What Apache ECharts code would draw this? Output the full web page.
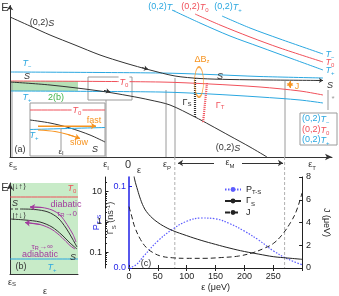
<!DOCTYPE html>
<html><head><meta charset="utf-8">
<script src="https://cdn.jsdelivr.net/npm/echarts@6/dist/echarts.min.js"></script>
<style>html,body{margin:0;padding:0;background:#fff}#c{width:339px;height:296px}</style>
</head><body><div id="c"></div>
<script>
// ---------- Panel (a): schematic energy levels (arbitrary units: eps, E) ----------
const aUpperS = [[0,70],[10,65.5],[20,61],[32.5,56],[45,51],[57.5,47],[70,43.5],[82.5,40.5],[95,39.25],[110,38.75],[130,38.5],[156.5,38.25]];
const aLowerS = [[0,37.5],[20,36],[45,33],[60,30.5],[70,28.5],[80,26],[92.5,20],[100,16],[110,10.5],[120,5],[128.5,0]];
const aT11m = [[0,42.5],[75,42],[100,41.25],[125,40.25],[156.5,39.5]];
const aT110 = [[0,38],[75,37.5],[100,36.5],[125,35],[145,33],[156.5,31]];
const aT11p = [[0,33],[75,32.5],[100,31.5],[125,30],[145,28.5],[156.5,27]];
const aT02m = [[106,70.5],[120,64.5],[135,59],[156.5,51.5]];
const aT020 = [[92.5,71.5],[105,66],[120,60],[135,54.5],[156.5,47.5]];
const aT02p = [[81,73.5],[95,67],[110,60.5],[125,55],[140,49.5],[156.5,43.5]];
const aMarkerEps = [1,48,78,82.5,137.5];
const aMarkerTop = [37.5,28.5,33.5,39.5,38];
const aDashedEps = [82.4,137.3];
const aDashedBottom = -55.5;
const aGreenBand = [[0,33],[34,38]];
const aZoomBox = [[39,28.5],[61,40]];
const aGammaS = [[92.5,39.5],[92.5,19.5]];
const aGammaT = [[98.5,37],[97.5,27],[96.5,17]];
const aDeltaBz = [[94.5,37.5]];
const aJArrow = [[140,38],[140,34.5]];
const aEpsM = {left:[[102,-3],[84,-3]], right:[[116,-3],[136.5,-3]]};
const aSweepArrows = [[[66,44.7],[69,43.9]], [[47,33.3],[50,32.6]], [[153,38.3],[156.5,38.25]]];
const aBracket = [[159,23.5],[159,33.5]];
const aTickLabels = ['{e|ε}{s|S}','{e|ε}{s|I}','{z|0}','{e|ε}{s|P}','{e|ε}{s|T}'];
// inset of (a)
const insT0 = [[0,46],[75,46]];
const insS = [[0,36],[20,33],[40,28],[60,21],[75,14]];
const insTp = [[0,26.5],[75,28.5]];
const insFast = [[8,30],[66,30]];
const insSlow = [[8,26],[25,24.5],[38,21.5],[50,17.5]];
const insEpsI = [[31,6],[31,28]];
// ---------- Panel (b) ----------
const bT0 = [[0,77],[68,77]];
const bTp = [[0,15],[68,15]];
const bUpperDash = [[0,65],[10,65]];
const bUpper = [[10,65],[25,64.5],[38,62],[48,56],[56,46],[62,36],[67,27]];
const bLower = [[0,55],[15,54],[30,52],[42,47],[52,39],[60,31],[67,25]];
const bDiabatic = [[20,67],[32,66.5],[42,64],[50,59],[57,49.5],[63,39.5],[66,32]];
const bAdiabatic = [[15,51.5],[30,49.5],[42,44.5],[52,36.5],[60,28.5],[65,25]];
// ---------- Panel (c) ----------
const pEps = [0,12.5,25,50,75,100,125,150,175,200,225,250,275,300];
const pVal = [0,0.004,0.014,0.033,0.047,0.057,0.061,0.060,0.054,0.045,0.034,0.021,0.011,0.004];
const gEps = [8,10,15,20,25,30,40,50,60,75,100,125,150,175,200,225,250,275,300];
const gVal = [40,24,11,5.5,3.2,2.2,1.35,0.95,0.72,0.52,0.35,0.245,0.18,0.135,0.105,0.086,0.071,0.064,0.058];
const jEps = [0,5,10,20,30,40,55,75,100,130,160,190,215,235,250,265,280,290,300];
const jVal = [5.4,4.5,3.6,2.5,1.8,1.4,1.05,0.9,0.85,0.85,0.92,1.05,1.35,1.75,2.15,2.9,4.0,5.0,6.6];
const gRange = [0.03, 30];
const gTickExp = [-1, 0, 1];
const gTickLabels = ['0.1', '1', '10'];
const gMinorMantissa = [2,3,4,5,6,7,8,9];

const F = 'Liberation Sans';
const DARK='#333', BLUE='#2aa7e0', RED='#f0505a', ORANGE='#f7931e', GFILL_A='#b6e0b6', GFILL_B='#c8ebc8', GTXT='#3fb34a', PURPLE='#a23b9e', GRAY='#9a9a9a', PBLUE='#1f1fe6', PDOT='#5c5cff';

function R(size){ return {
  n:{fontFamily:F,fontSize:size,lineHeight:size+3},
  i:{fontFamily:F,fontSize:size,fontStyle:'italic',lineHeight:size+3},
  e:{fontFamily:F,fontSize:size,lineHeight:size+3},
  z:{fontFamily:F,fontSize:size+2,lineHeight:size+3},
  s:{fontFamily:F,fontSize:Math.round(size*0.72),lineHeight:Math.round(size*0.55),verticalAlign:'bottom'},
  p:{fontFamily:F,fontSize:Math.round(size*0.72),lineHeight:Math.round(size*0.55),verticalAlign:'top'}
};}
function T(x,y,text,color,size,o,rot){ size=size||9; return {type:'text', x:x, y:y, rotation:rot||0, z:50, silent:true, style:Object.assign({text:text, fill:color||DARK, fontFamily:F, fontSize:size, align:'center', verticalAlign:'middle', rich:R(size)}, o||{})}; }
function L(data,color,xi,yi,o){ return Object.assign({type:'line', xAxisIndex:xi, yAxisIndex:yi, data:data, symbol:'none', showSymbol:false, smooth:0.3, silent:true, lineStyle:{color:color,width:1}, z:3}, o||{}); }
function A(seg,color,xi,yi,both,size){ return {type:'line', xAxisIndex:xi, yAxisIndex:yi, data:[], silent:true, z:4,
  markLine:{silent:true, animation:false, symbol: both?['arrow','arrow']:['none','arrow'], symbolSize:size||5, label:{show:false}, emphasis:{disabled:true},
  lineStyle:{color:color,width:1,type:'solid'}, data:[[{coord:seg[0]},{coord:seg[1]}]]}}; }

const gMinorExp = [];
[-2,-1,0,1].forEach(k=>gMinorMantissa.forEach(m=>{ const v=Math.log10(m)+k; if (v>Math.log10(gRange[0]) && v<Math.log10(gRange[1])) gMinorExp.push(v); }));

const series = [];
// (a)
series.push({type:'line', xAxisIndex:0, yAxisIndex:0, data:[], silent:true, z:1,
  markArea:{silent:true, data:[
    [{coord:aGreenBand[0], itemStyle:{color:GFILL_A}},{coord:aGreenBand[1]}],
    [{coord:aZoomBox[0], itemStyle:{color:'rgba(0,0,0,0)', borderColor:GRAY, borderWidth:1}},{coord:aZoomBox[1]}]]}});
aMarkerEps.forEach((x,k)=>series.push(L([[x,0],[x,aMarkerTop[k]]],GRAY,0,0,{smooth:false,z:2})));
aDashedEps.forEach(x=>series.push(L([[x,0],[x,aDashedBottom]],'#b0b0b0',0,0,{smooth:false,z:1,lineStyle:{color:'#b0b0b0',width:1,type:[3,2]}})));
series.push(L(aBracket,GRAY,0,0,{smooth:false}));
series.push(L(aT11m,BLUE,0,0)); series.push(L(aT110,RED,0,0)); series.push(L(aT11p,BLUE,0,0));
series.push(L(aT02m,BLUE,0,0)); series.push(L(aT020,RED,0,0)); series.push(L(aT02p,BLUE,0,0));
series.push(L(aUpperS,DARK,0,0)); series.push(L(aLowerS,DARK,0,0));
aSweepArrows.forEach(s=>series.push(A(s,DARK,0,0,false,4)));
series.push(L(aGammaS,DARK,0,0,{smooth:false,lineStyle:{color:DARK,width:2.2,type:[1,1]}}));
series.push(L(aGammaT,RED,0,0,{smooth:0.5,lineStyle:{color:RED,width:2.2,type:[1,1]}}));
series.push({type:'scatter', xAxisIndex:0, yAxisIndex:0, data:aDeltaBz, symbol:'circle', symbolSize:[9,30], silent:true, z:5,
  itemStyle:{color:'rgba(0,0,0,0)', borderColor:ORANGE, borderWidth:1.2}});
series.push(A(aJArrow,ORANGE,0,0,true));
series.push(A(aEpsM.left,DARK,0,0)); series.push(A(aEpsM.right,DARK,0,0));
series.push(A([[0,0],[0,75.9]],DARK,0,0));
// inset
series.push(L(insT0,RED,1,1)); series.push(L(insS,DARK,1,1)); series.push(L(insTp,BLUE,1,1));
series.push(L(insEpsI,GRAY,1,1,{smooth:false}));
series.push(L(insFast,ORANGE,1,1,{lineStyle:{color:ORANGE,width:1.2}})); series.push(A([insFast[0],insFast[1]],ORANGE,1,1));
series.push(L(insSlow,ORANGE,1,1,{lineStyle:{color:ORANGE,width:1.2}})); series.push(A([insSlow[2],insSlow[3]],ORANGE,1,1));
// (b)
series.push(L(bT0,RED,2,2)); series.push(L(bTp,BLUE,2,2));
series.push(L(bUpperDash,DARK,2,2,{lineStyle:{color:DARK,width:1,type:[3,2]}}));
series.push(L(bUpper,DARK,2,2)); series.push(L(bLower,DARK,2,2));
series.push(L(bDiabatic,PURPLE,2,2)); series.push(A([bDiabatic[1],bDiabatic[0]],PURPLE,2,2));
series.push(L(bAdiabatic,PURPLE,2,2)); series.push(A([bAdiabatic[1],bAdiabatic[0]],PURPLE,2,2));
// (c)
series.push({name:'P', type:'line', xAxisIndex:3, yAxisIndex:3, data:pEps.map((e,k)=>[e,pVal[k]]), symbol:'none', smooth:0.4, silent:true, z:3, lineStyle:{color:PDOT,width:1.2,type:[1.5,1.5]}, itemStyle:{color:PDOT}});
series.push({name:'G', type:'line', xAxisIndex:3, yAxisIndex:4, data:gEps.map((e,k)=>[e,gVal[k]]), symbol:'none', smooth:0.4, silent:true, z:3, lineStyle:{color:'#222',width:1}, itemStyle:{color:'#222'}});
series.push({name:'J', type:'line', xAxisIndex:3, yAxisIndex:5, data:jEps.map((e,k)=>[e,jVal[k]]), symbol:'none', smooth:0.4, silent:true, z:3, lineStyle:{color:'#222',width:1,type:[5,3]}, itemStyle:{color:'#222'}});

const option = {
  animation:false,
  textStyle:{fontFamily:F},
  grid:[
    {left:10, top:5, width:322, height:263},
    {left:30, top:103, width:75, height:53, show:true, backgroundColor:'#fff', borderColor:GRAY, borderWidth:1},
    {left:10, top:183, width:68, height:91, show:true, backgroundColor:GFILL_B, borderWidth:0},
    {left:129, top:177, width:183, height:91},
    {left:105, top:177, width:24, height:91},
    {left:105, top:177, width:24, height:91}
  ],
  xAxis:[
    {gridIndex:0, type:'value', min:0, max:161, splitLine:{show:false},
      axisLine:{onZero:true, lineStyle:{color:DARK}, symbol:['none','arrow'], symbolSize:[5,7]},
      axisTick:{show:false}, axisLabel:{show:false}},
    {gridIndex:1, type:'value', min:0, max:75, show:false},
    {gridIndex:2, type:'value', min:0, max:68, axisLine:{lineStyle:{color:DARK}}, axisTick:{show:false}, axisLabel:{show:false}, splitLine:{show:false}},
    {gridIndex:3, type:'value', min:0, max:300, interval:50, axisLine:{lineStyle:{color:'#222'}}, splitLine:{show:false},
      axisTick:{inside:true, length:3, lineStyle:{color:'#222'}}, axisLabel:{showMaxLabel:false, fontSize:9, color:'#222', margin:4},
      name:'ε (μeV)', nameLocation:'middle', nameGap:15, nameTextStyle:{fontSize:9, color:'#222'}},
    {gridIndex:3, type:'value', position:'top', min:0, max:300, interval:50, axisLine:{lineStyle:{color:'#222'}}, splitLine:{show:false},
      axisTick:{inside:true, length:3, lineStyle:{color:'#222'}}, axisLabel:{show:false}},
    {gridIndex:4, type:'value', min:0, max:1, show:false},
    {gridIndex:5, type:'value', min:0, max:1, show:false}
  ],
  yAxis:[
    {gridIndex:0, type:'value', min:-55.5, max:76, show:false},
    {gridIndex:1, type:'value', min:0, max:53, show:false},
    {gridIndex:2, type:'value', min:0, max:91, splitLine:{show:false}, axisTick:{show:false}, axisLabel:{show:false},
      axisLine:{show:true, lineStyle:{color:DARK}, symbol:['none','arrow'], symbolSize:[5,7]}},
    {gridIndex:3, type:'value', position:'left', min:0, max:0.111, interval:0.1, splitLine:{show:false},
      axisLine:{show:true, lineStyle:{color:PBLUE, width:1.5}}, axisTick:{inside:true, length:3, lineStyle:{color:PBLUE}},
      axisLabel:{color:PBLUE, fontSize:9, margin:3, showMaxLabel:false, formatter:(v)=>v.toFixed(1)},
      name:'{n|P}{s|T-S}', nameLocation:'middle', nameGap:13, nameTextStyle:{color:PBLUE, rich:R(9)}},
    {gridIndex:3, type:'log', position:'left', min:gRange[0], max:gRange[1], show:false},
    {gridIndex:3, type:'value', position:'right', min:0, max:8, interval:2, splitLine:{show:false},
      axisLine:{show:true, lineStyle:{color:'#222'}}, axisTick:{inside:true, length:3, lineStyle:{color:'#222'}},
      axisLabel:{color:'#222', fontSize:9, margin:4},
      name:'J (μeV)', nameLocation:'middle', nameGap:14, nameRotate:-90, nameTextStyle:{color:'#222', fontSize:9}},
    // visible Γ_S scale (decades), same extent as the hidden log axis above
    {gridIndex:4, type:'value', position:'left', min:Math.log10(gRange[0]), max:Math.log10(gRange[1]), splitLine:{show:false},
      axisLine:{show:true, lineStyle:{color:'#222'}}, axisTick:{inside:true, length:3.5, customValues:gTickExp, lineStyle:{color:'#222'}},
      axisLabel:{show:false}},
    {gridIndex:5, type:'value', position:'left', min:Math.log10(gRange[0]), max:Math.log10(gRange[1]), splitLine:{show:false},
      axisLine:{show:false}, axisTick:{inside:true, length:2, customValues:gMinorExp, lineStyle:{color:'#222'}},
      axisLabel:{show:false}}
  ],
  legend:{orient:'vertical', left:219, top:180, itemWidth:16, itemHeight:6, itemGap:1, data:['P','G','J'],
    formatter:(n)=>({P:'{n|P}{s|T-S}', G:'{n|Γ}{s|S}', J:'{n|J}'})[n], textStyle:{fontSize:9, color:'#222', rich:R(9)}, selectedMode:false},
  series:series,
  graphic:[
    // (a)
    T(5,8,'E',DARK,11),
    T(42,23,'(0,2){i|S}',DARK,9),
    T(27,63,'{i|T}{s|−}',BLUE,9), T(27,76,'{i|S}',DARK,9), T(27,97,'{i|T}{s|+}',BLUE,9),
    T(56,98,'2(b)',GTXT,9),
    T(124,82,'{i|T}{s|0}',RED,9,{backgroundColor:'#fff', padding:[0,1]}),
    T(162,7,'(0,2){i|T}{s|−}',BLUE,9), T(195,7,'(0,2){i|T}{s|0}',RED,9), T(228,7,'(0,2){i|T}{s|+}',BLUE,9),
    T(330,54,'{i|T}{s|−}',BLUE,9), T(330,62,'{i|T}{s|0}',RED,9), T(330,70,'{i|T}{s|+}',BLUE,9), T(330,85,'{i|S}',DARK,9),
    T(333,99,'*',GRAY,8),
    T(202,60,'ΔB{s|z}',ORANGE,9),
    T(187,103,'Γ{s|S}',DARK,9), T(220,106,'Γ{s|T}',RED,9),
    T(220,76,'{i|S}',DARK,9),
    T(297,87,'J',ORANGE,9),
    T(228,148,'(0,2){i|S}',DARK,9),
    {type:'rect', x:300, y:113, z:40, silent:true, shape:{width:37, height:32}, style:{fill:'#fff', stroke:GRAY, lineWidth:1}},
    T(302,119,'(0,2){i|T}{s|−}',BLUE,9,{align:'left'}), T(302,130,'(0,2){i|T}{s|0}',RED,9,{align:'left'}), T(302,140,'(0,2){i|T}{s|+}',BLUE,9,{align:'left'}),
    T(20,150,'(a)',DARK,9),
    T(13,165,aTickLabels[0],DARK,9), T(106,165,aTickLabels[1],DARK,9), T(128,165,aTickLabels[2],DARK,9),
    T(167,165,aTickLabels[3],DARK,9), T(312,165,aTickLabels[4],DARK,9),
    T(139,171,'ε',DARK,9),
    T(230,163,'{e|ε}{s|M}',DARK,9),
    // inset
    T(77,110,'{i|T}{s|0}',RED,9,{backgroundColor:'#fff', padding:[0,1]}),
    T(94,121,'fast',ORANGE,9), T(34,135,'{i|T}{s|+}',BLUE,9), T(79,143,'slow',ORANGE,9),
    T(61,152,'ε{s|I}',DARK,8), T(95,149,'{i|S}',DARK,9),
    // (b)
    T(5,188,'E',DARK,11),
    T(19,187,'|↓↑⟩',DARK,8), T(72,188,'{i|T}{s|0}',RED,9), T(15,203,'{i|S}',DARK,9), T(19,216,'|↑↓⟩',DARK,8),
    T(66,205,'diabatic',PURPLE,9), T(67,214,'τ{s|R}→0',PURPLE,8),
    T(42,247,'τ{s|R}→∞',PURPLE,8), T(40,255,'adiabatic',PURPLE,9),
    T(73,257,'{i|S}',DARK,9), T(52,267,'{i|T}{s|+}',BLUE,9), T(21,267,'(b)',DARK,9),
    T(12,283,'ε{s|S}',DARK,9), T(45,292,'ε',DARK,9),
    // (c)
    T(146,264,'(c)',DARK,9),
    T(111,218,'Γ{s|S}{n| (ns}{p|-1}{n|)}',DARK,9,{},Math.PI/2)
  ]
};
const chart = echarts.init(document.getElementById('c'));
chart.setOption(option);
// Γ_S decade labels placed through the Γ_S axis scale
const gAxisX = chart.convertToPixel({gridIndex:4}, [0, Math.log10(gRange[0])])[0];
const extra = gTickExp.map((t,k)=>{
  const py = chart.convertToPixel({yAxisIndex:6}, t);
  return T(gAxisX-3, py, gTickLabels[k], '#222', 9, {align:'right'});
});
chart.setOption({graphic: option.graphic.concat(extra)});
</script></body></html>
